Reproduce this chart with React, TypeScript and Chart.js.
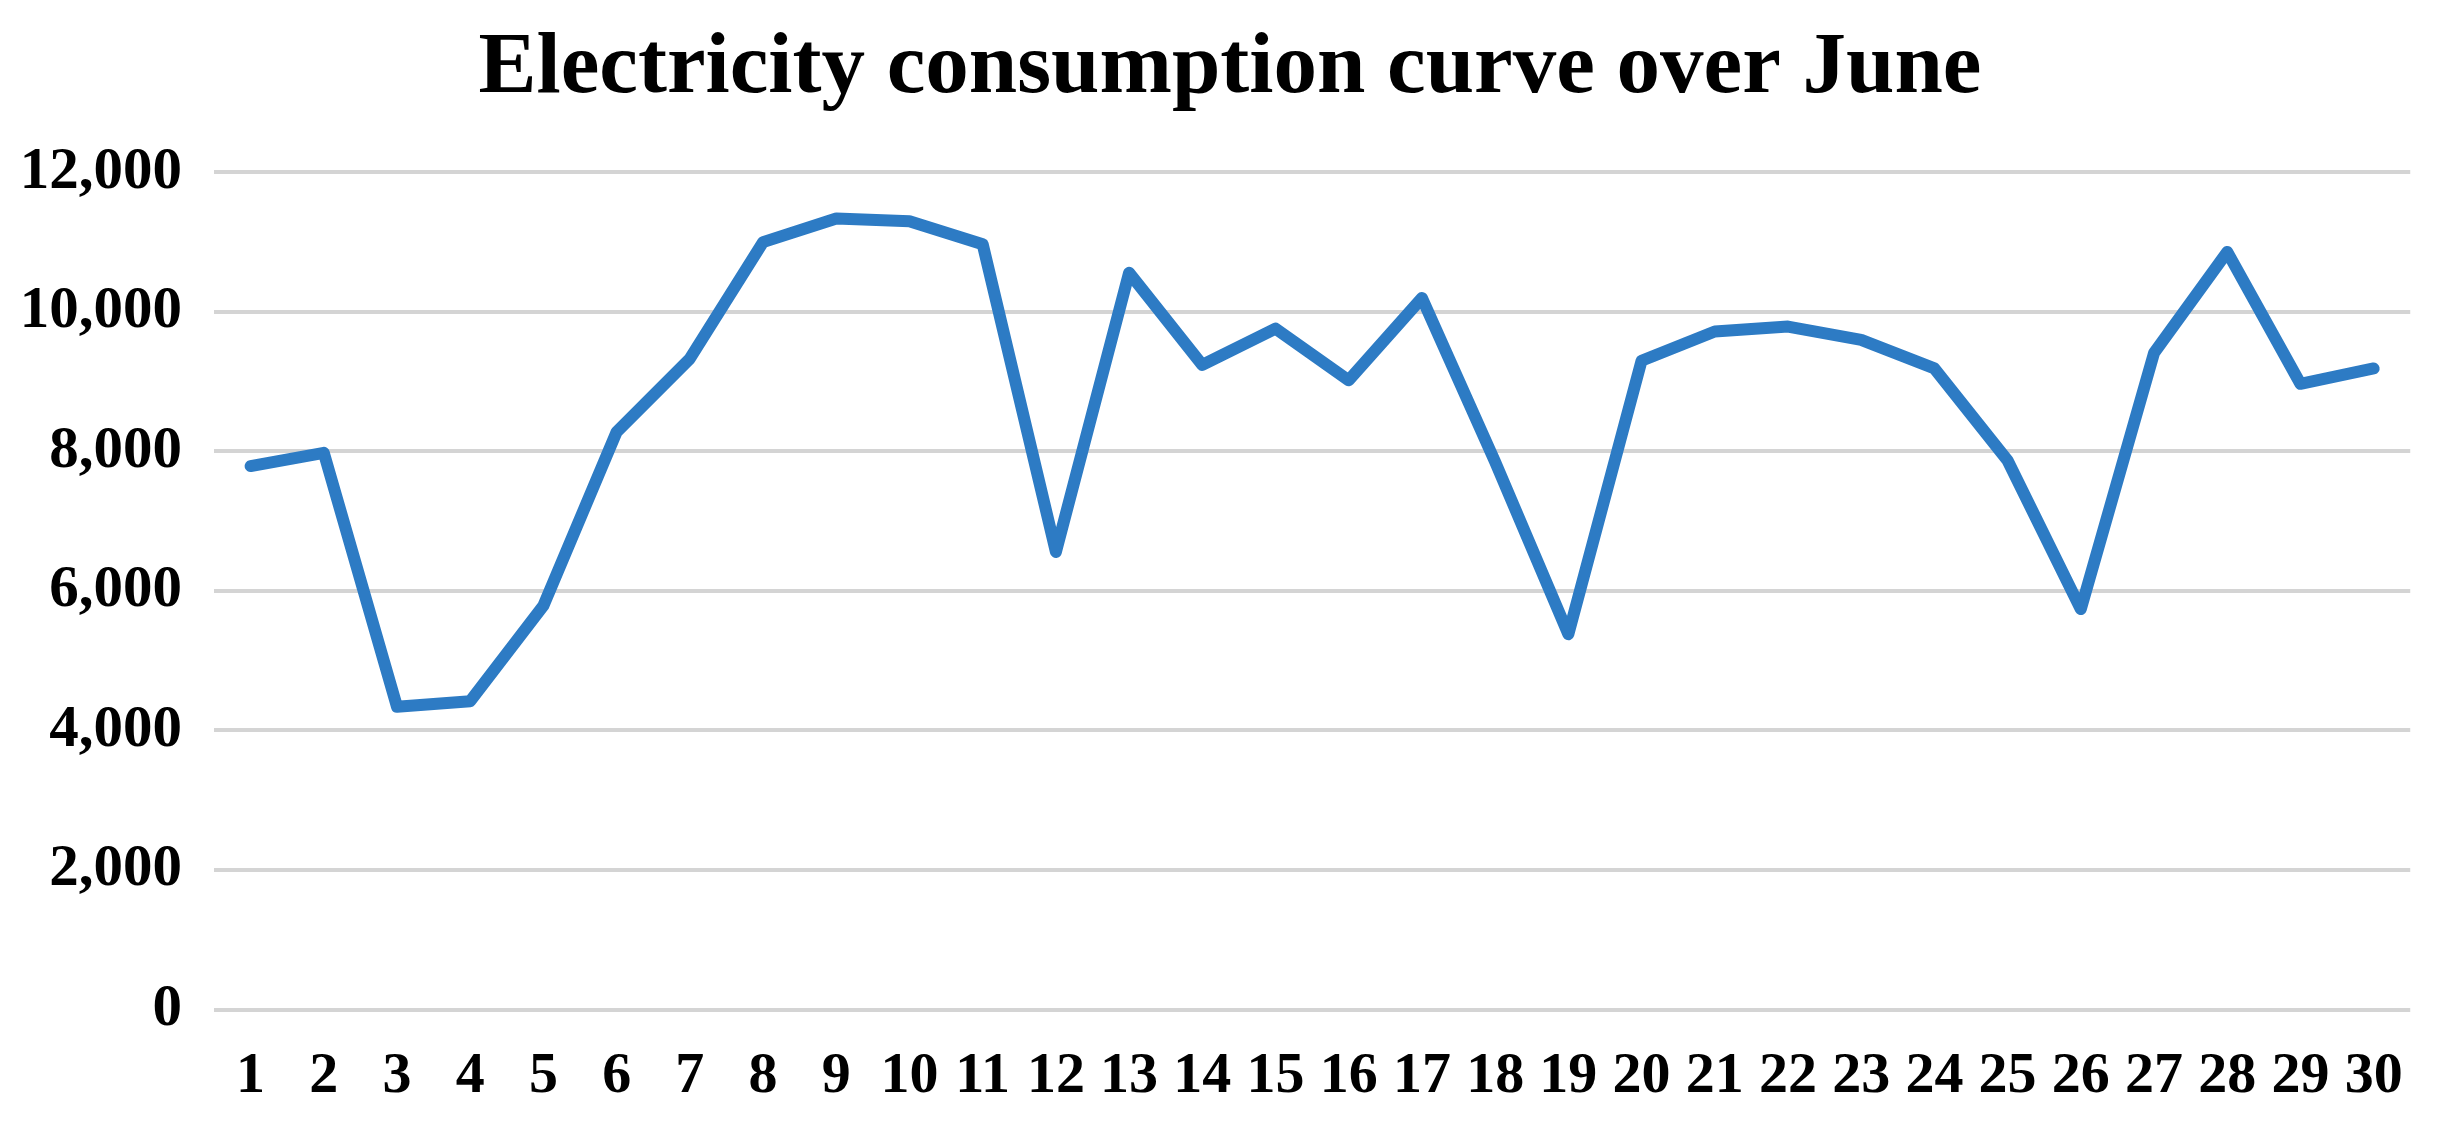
import React, { useEffect, useRef } from 'react';
import { Chart, registerables } from 'chart.js';

Chart.register(...registerables);

const TITLE = 'Electricity consumption curve over June';

const days = [
  '1', '2', '3', '4', '5', '6', '7', '8', '9', '10',
  '11', '12', '13', '14', '15', '16', '17', '18', '19', '20',
  '21', '22', '23', '24', '25', '26', '27', '28', '29', '30',
];

const consumption = [
  7790, 7980, 4340, 4420, 5790, 8280, 9330, 11000, 11340, 11300,
  10970, 6560, 10560, 9240, 9760, 9020, 10200, 7850, 5380, 9300,
  9720, 9790, 9600, 9190, 7870, 5740, 9410, 10860, 8970, 9190,
];

const Y_MIN = 0;
const Y_MAX = 12000;
const Y_STEP = 2000;

const FONT_FAMILY = '"Liberation Serif", "Times New Roman", serif';

const titleShift = {
  id: 'titleShift',
  afterLayout(chart: any) {
    const t = chart.titleBlock;
    if (t) {
      t.left += 19;
      t.right += 19;
    }
  },
};

export default function App() {
  const canvasRef = useRef<HTMLCanvasElement | null>(null);

  useEffect(() => {
    const canvas = canvasRef.current;
    if (!canvas) return;
    const chart = new Chart(canvas, {
      type: 'line',
      data: {
        labels: days,
        datasets: [
          {
            label: 'Consumption',
            data: consumption,
            borderColor: '#2d7bc4',
            backgroundColor: '#2d7bc4',
            borderWidth: 12,
            pointRadius: 0,
            pointHoverRadius: 0,
            tension: 0,
            borderJoinStyle: 'round',
            borderCapStyle: 'round',
            fill: false,
          },
        ],
      },
      plugins: [titleShift],
      options: {
        responsive: false,
        animation: false,
        devicePixelRatio: 1,
        layout: { padding: { left: 0, right: 22, top: 0, bottom: 0 } },
        plugins: {
          legend: { display: false },
          tooltip: { enabled: false },
          title: {
            display: true,
            text: TITLE,
            color: '#000000',
            font: { family: FONT_FAMILY, size: 87, weight: 'bold', lineHeight: 1.2 },
            padding: { top: 9, bottom: 51 },
          },
        },
        scales: {
          x: {
            offset: true,
            grid: { display: false, drawTicks: false },
            border: { display: false },
            ticks: {
              autoSkip: false,
              maxRotation: 0,
              minRotation: 0,
              padding: 33,
              color: '#000000',
              font: { family: FONT_FAMILY, size: 58, weight: 'bold' },
            },
            afterFit: (scale: any) => {
              scale.height = 117.5;
            },
          },
          y: {
            min: Y_MIN,
            max: Y_MAX,
            grid: { color: '#d4d4d4', lineWidth: 4, drawTicks: false },
            border: { display: false },
            ticks: {
              stepSize: Y_STEP,
              padding: 32,
              color: '#000000',
              font: { family: FONT_FAMILY, size: 59, weight: 'bold' },
              callback: (v: any) => Number(v).toLocaleString('en-US'),
            },
            afterFit: (scale: any) => {
              scale.width = 206;
            },
          },
        },
      },
    });
    return () => chart.destroy();
  }, []);

  return (
    <div style={{ width: 2428, height: 1119, background: '#ffffff' }}>
      <canvas ref={canvasRef} width={2428} height={1119} style={{ display: 'block' }} />
    </div>
  );
}
